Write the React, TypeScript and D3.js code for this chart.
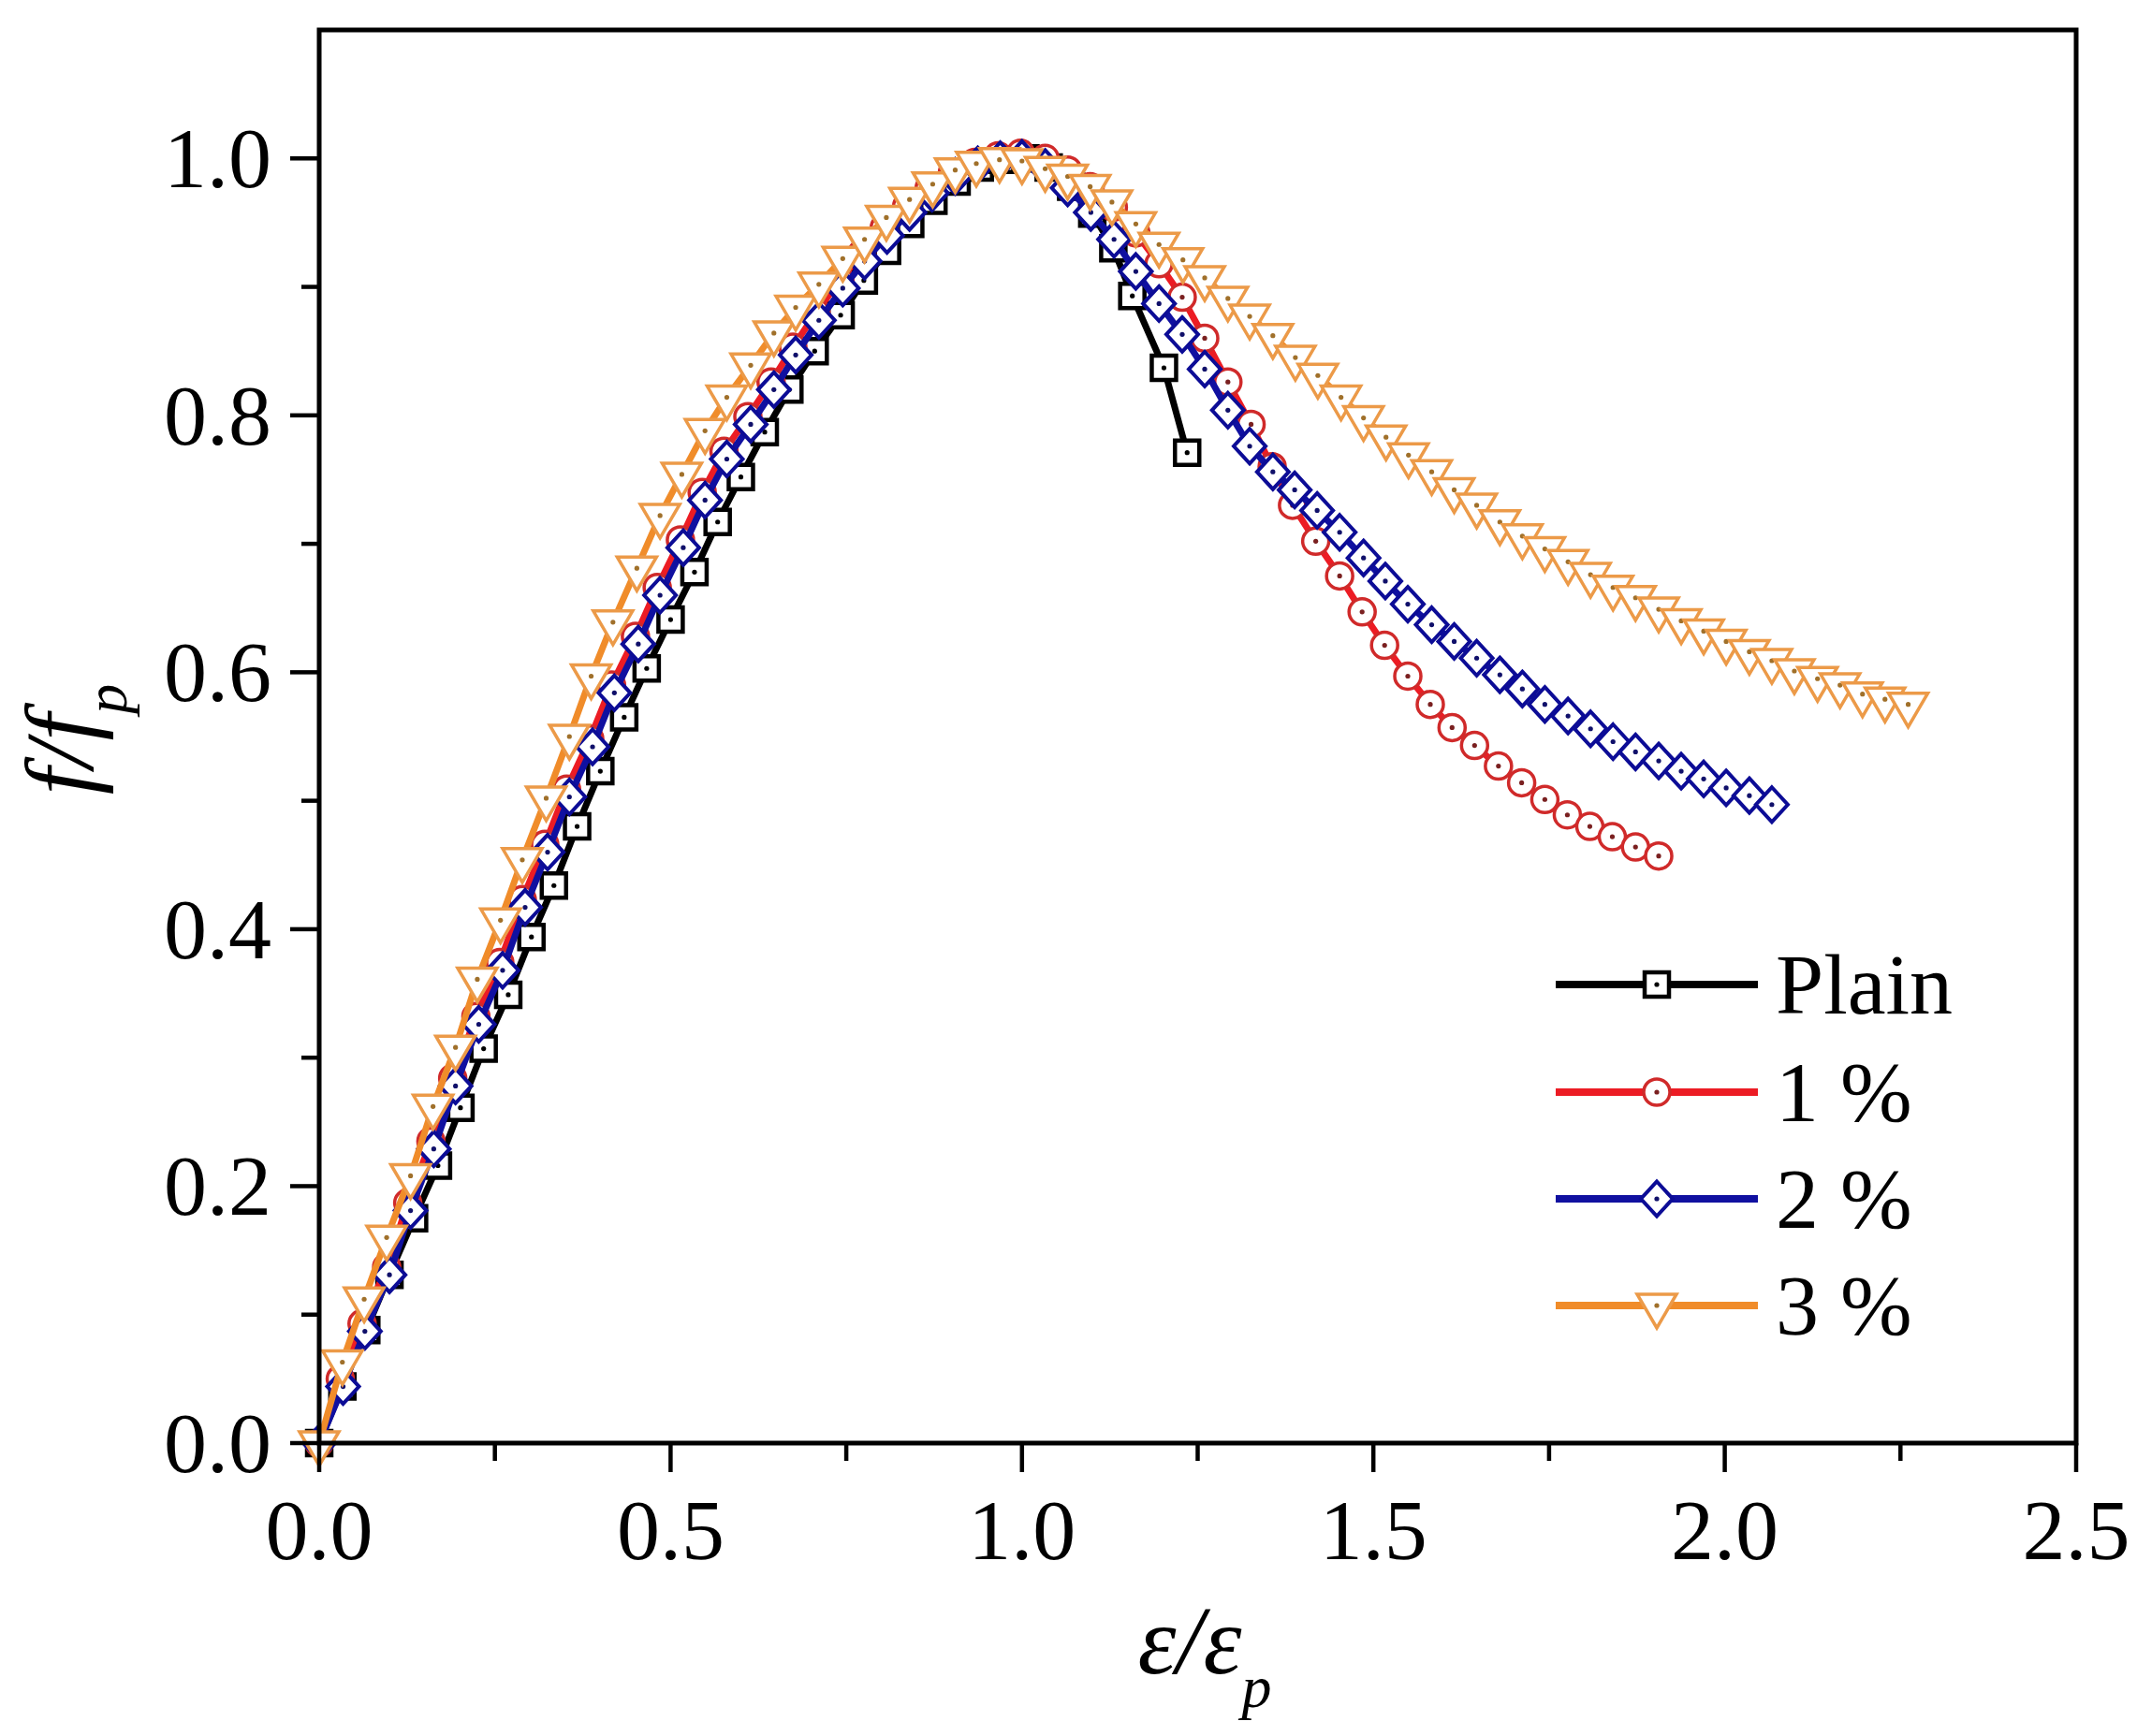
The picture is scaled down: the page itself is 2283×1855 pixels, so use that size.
import React from 'react';
import * as d3 from 'd3';

const W = 2283;
const H = 1855;

const xMajor = [0, 0.5, 1.0, 1.5, 2.0, 2.5];
const xMinor = [0.25, 0.75, 1.25, 1.75, 2.25];
const yMajor = [0, 0.2, 0.4, 0.6, 0.8, 1.0];
const yMinor = [0.1, 0.3, 0.5, 0.7, 0.9];

const plainX = [0, 0.033, 0.067, 0.1, 0.135, 0.169, 0.201, 0.234, 0.269, 0.302, 0.334, 0.367, 0.4, 0.434, 0.466, 0.5, 0.534, 0.567, 0.6, 0.634, 0.669, 0.705, 0.742, 0.775, 0.808, 0.841, 0.874, 0.907, 0.94, 0.972, 1.005, 1.038, 1.07, 1.1, 1.13, 1.157, 1.202, 1.235];
const plainY = [0, 0.044, 0.088, 0.131, 0.175, 0.216, 0.261, 0.307, 0.349, 0.394, 0.434, 0.48, 0.523, 0.565, 0.603, 0.641, 0.678, 0.717, 0.752, 0.787, 0.82, 0.85, 0.878, 0.905, 0.928, 0.949, 0.967, 0.982, 0.993, 0.999, 1.0, 0.993, 0.978, 0.957, 0.93, 0.893, 0.837, 0.771];

const p1X = [0, 0.03, 0.061, 0.096, 0.126, 0.159, 0.19, 0.223, 0.257, 0.289, 0.321, 0.352, 0.385, 0.416, 0.45, 0.481, 0.514, 0.545, 0.576, 0.61, 0.643, 0.674, 0.707, 0.741, 0.772, 0.804, 0.836, 0.868, 0.901, 0.933, 0.966, 0.998, 1.033, 1.065, 1.097, 1.13, 1.162, 1.195, 1.228, 1.26, 1.293, 1.326, 1.356, 1.385, 1.418, 1.452, 1.484, 1.516, 1.549, 1.581, 1.612, 1.644, 1.678, 1.711, 1.744, 1.776, 1.808, 1.84, 1.873, 1.906];
const p1Y = [0, 0.05, 0.093, 0.137, 0.187, 0.235, 0.284, 0.332, 0.374, 0.423, 0.466, 0.509, 0.548, 0.59, 0.628, 0.666, 0.703, 0.74, 0.772, 0.799, 0.826, 0.853, 0.88, 0.905, 0.926, 0.946, 0.963, 0.977, 0.989, 0.997, 1.002, 1.004, 1.0, 0.991, 0.978, 0.962, 0.942, 0.918, 0.892, 0.86, 0.826, 0.793, 0.76, 0.73, 0.702, 0.675, 0.647, 0.621, 0.597, 0.575, 0.557, 0.543, 0.527, 0.514, 0.501, 0.489, 0.48, 0.472, 0.464, 0.457];

const p2X = [0, 0.034, 0.065, 0.1, 0.13, 0.163, 0.194, 0.227, 0.261, 0.293, 0.325, 0.356, 0.389, 0.42, 0.454, 0.485, 0.518, 0.549, 0.58, 0.614, 0.647, 0.678, 0.711, 0.745, 0.776, 0.808, 0.84, 0.872, 0.905, 0.937, 0.969, 1.0, 1.033, 1.065, 1.098, 1.131, 1.162, 1.195, 1.228, 1.26, 1.293, 1.324, 1.357, 1.388, 1.42, 1.452, 1.486, 1.517, 1.549, 1.583, 1.615, 1.647, 1.68, 1.712, 1.744, 1.777, 1.809, 1.841, 1.873, 1.906, 1.938, 1.97, 2.002, 2.035, 2.067];
const p2Y = [0, 0.044, 0.087, 0.131, 0.181, 0.229, 0.278, 0.326, 0.368, 0.417, 0.46, 0.503, 0.542, 0.584, 0.622, 0.66, 0.697, 0.734, 0.766, 0.793, 0.82, 0.847, 0.874, 0.899, 0.92, 0.94, 0.958, 0.973, 0.986, 0.995, 0.999, 1.0, 0.993, 0.977, 0.958, 0.937, 0.912, 0.887, 0.863, 0.836, 0.804, 0.776, 0.756, 0.742, 0.726, 0.709, 0.689, 0.671, 0.653, 0.637, 0.624, 0.611, 0.598, 0.587, 0.575, 0.566, 0.556, 0.546, 0.538, 0.531, 0.523, 0.517, 0.51, 0.504, 0.497];

const p3X = [0, 0.033, 0.064, 0.096, 0.13, 0.162, 0.194, 0.225, 0.258, 0.289, 0.323, 0.356, 0.387, 0.418, 0.452, 0.485, 0.516, 0.549, 0.58, 0.614, 0.647, 0.678, 0.711, 0.745, 0.776, 0.807, 0.84, 0.873, 0.905, 0.935, 0.968, 1.0, 1.033, 1.065, 1.097, 1.128, 1.162, 1.195, 1.229, 1.26, 1.293, 1.324, 1.357, 1.389, 1.421, 1.454, 1.486, 1.518, 1.55, 1.583, 1.615, 1.647, 1.68, 1.712, 1.744, 1.777, 1.809, 1.841, 1.873, 1.906, 1.938, 1.97, 2.002, 2.035, 2.067, 2.099, 2.132, 2.164, 2.196, 2.228, 2.261];
const p3Y = [0, 0.063, 0.112, 0.16, 0.208, 0.262, 0.308, 0.361, 0.407, 0.454, 0.502, 0.55, 0.597, 0.639, 0.681, 0.722, 0.754, 0.788, 0.814, 0.839, 0.864, 0.884, 0.902, 0.922, 0.937, 0.954, 0.968, 0.98, 0.991, 0.996, 0.999, 0.998, 0.992, 0.986, 0.978, 0.966, 0.949, 0.933, 0.921, 0.907, 0.891, 0.877, 0.862, 0.845, 0.831, 0.814, 0.798, 0.783, 0.769, 0.756, 0.742, 0.73, 0.717, 0.706, 0.696, 0.686, 0.676, 0.666, 0.658, 0.649, 0.64, 0.632, 0.624, 0.616, 0.609, 0.601, 0.595, 0.59, 0.583, 0.579, 0.575];

const seriesNames = ['Plain', '1 %', '2 %', '3 %'];
const seriesXs = [plainX, p1X, p2X, p3X];
const seriesYs = [plainY, p1Y, p2Y, p3Y];
const lineColors = ['#000000', '#ec1c24', '#1010a0', '#f08c2a'];
const markerColors = ['#000000', '#d02a2a', '#0c0c96', '#ec9a48'];
const dotColors = ['#000000', '#7a2020', '#10106a', '#a0702a'];
const markerShapes = ['square', 'circle', 'diamond', 'triangle'];
const markerStroke = [4.5, 3.5, 4, 3.5];

const L = 341, R = 2218, T = 32, B = 1542;
const FONT = '"Liberation Serif", "Times New Roman", Times, serif';
const textStyle = { fontFamily: FONT };

function markerPath(shape: string, cx: number, cy: number): string {
  const p = d3.path();
  if (shape === 'square') {
    const h = 13;
    p.rect(cx - h, cy - h, 2 * h, 2 * h);
  } else if (shape === 'circle') {
    p.moveTo(cx + 14, cy);
    p.arc(cx, cy, 14, 0, Math.PI * 2);
    p.closePath();
  } else if (shape === 'diamond') {
    p.moveTo(cx, cy - 18.5);
    p.lineTo(cx + 17, cy);
    p.lineTo(cx, cy + 18.5);
    p.lineTo(cx - 17, cy);
    p.closePath();
  } else {
    p.moveTo(cx - 21, cy - 12);
    p.lineTo(cx + 21, cy - 12);
    p.lineTo(cx, cy + 24);
    p.closePath();
  }
  return p.toString();
}

function Marker({ shape, x, y, i }: { shape: string; x: number; y: number; i: number }) {
  return (
    <g>
      <path d={markerPath(shape, x, y)} fill="#ffffff" stroke={markerColors[i]} strokeWidth={markerStroke[i]} strokeLinejoin="miter" />
      <circle cx={x} cy={y} r={2.6} fill={dotColors[i]} />
    </g>
  );
}

export default function App() {
  const x = d3.scaleLinear().domain([0, 2.5]).range([L, R]);
  const y = d3.scaleLinear().domain([0, 1.1]).range([B, T]);
  const line = d3
    .line<[number, number]>()
    .x((d) => x(d[0]))
    .y((d) => y(d[1]));

  const legendX1 = 1662;
  const legendX2 = 1878;
  const legendRows = [1052, 1167, 1281, 1395];

  return (
    <svg
      width={W}
      height={H}
      viewBox={`0 0 ${W} ${H}`}
      style={{ position: 'absolute', left: 0, top: 0, background: '#ffffff' }}
    >
      <rect x={0} y={0} width={W} height={H} fill="#ffffff" />
      {seriesXs.map((xs, i) => {
        const pts = xs.map((v, k) => [v, seriesYs[i][k]] as [number, number]);
        return (
          <g key={seriesNames[i]}>
            <path d={line(pts) || ''} fill="none" stroke={lineColors[i]} strokeWidth={7} strokeLinejoin="round" />
            {pts.map((d, k) => (
              <Marker key={k} shape={markerShapes[i]} x={x(d[0])} y={y(d[1])} i={i} />
            ))}
          </g>
        );
      })}

      {/* frame */}
      <rect x={L} y={T} width={R - L} height={B - T} fill="none" stroke="#000" strokeWidth={5} />
      {xMajor.map((t) => (
        <line key={'xM' + t} x1={x(t)} x2={x(t)} y1={B} y2={B + 31} stroke="#000" strokeWidth={4.5} />
      ))}
      {xMinor.map((t) => (
        <line key={'xm' + t} x1={x(t)} x2={x(t)} y1={B} y2={B + 19} stroke="#000" strokeWidth={4.5} />
      ))}
      {yMajor.map((t) => (
        <line key={'yM' + t} x1={L - 31} x2={L} y1={y(t)} y2={y(t)} stroke="#000" strokeWidth={4.5} />
      ))}
      {yMinor.map((t) => (
        <line key={'ym' + t} x1={L - 19} x2={L} y1={y(t)} y2={y(t)} stroke="#000" strokeWidth={4.5} />
      ))}
      {xMajor.map((t) => (
        <text key={'xl' + t} x={x(t)} y={1666} textAnchor="middle" style={textStyle} fontSize={92} fill="#000">
          {t.toFixed(1)}
        </text>
      ))}
      {yMajor.map((t) => (
        <text key={'yl' + t} x={290} y={y(t) + 31} textAnchor="end" style={textStyle} fontSize={92} fill="#000">
          {t.toFixed(1)}
        </text>
      ))}

      {/* axis titles */}
      <text x={1287} y={1788} textAnchor="middle" style={textStyle} fontStyle="italic" fontSize={104} fill="#000">
        ε/ε<tspan fontSize={64} dy={36}>p</tspan>
      </text>
      <text
        transform="translate(99, 790) rotate(-90)"
        textAnchor="middle"
        style={textStyle}
        fontStyle="italic"
        fontSize={104}
        fill="#000"
      >
        f/f<tspan fontSize={64} dy={36}>p</tspan>
      </text>

      {/* legend */}
      {seriesNames.map((name, i) => (
        <g key={'lg' + name}>
          <line x1={legendX1} x2={legendX2} y1={legendRows[i]} y2={legendRows[i]} stroke={lineColors[i]} strokeWidth={8} />
          <Marker shape={markerShapes[i]} x={(legendX1 + legendX2) / 2} y={legendRows[i]} i={i} />
          <text x={1897} y={legendRows[i] + 31} style={textStyle} fontSize={92} fill="#000">
            {name}
          </text>
        </g>
      ))}
    </svg>
  );
}
